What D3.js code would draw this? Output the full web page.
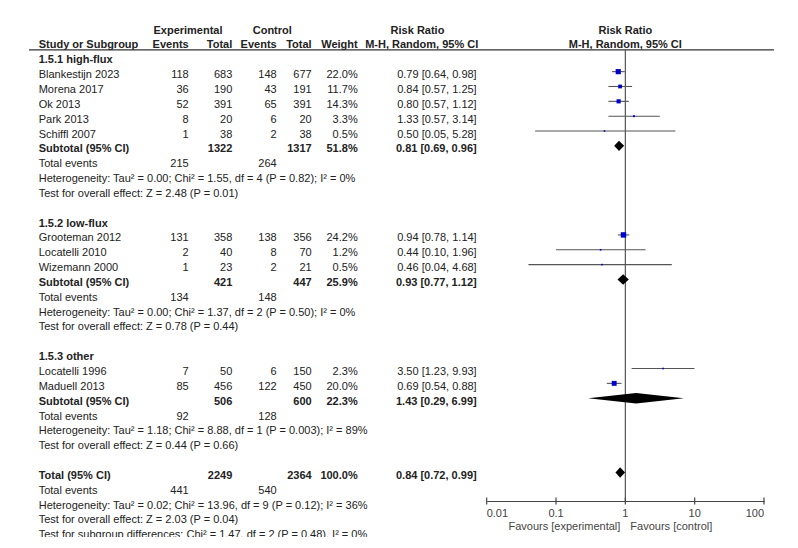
<!DOCTYPE html>
<html><head><meta charset="utf-8">
<script src="https://cdn.jsdelivr.net/npm/d3@7"></script>
<style>
html,body{margin:0;padding:0;background:#fff;}
svg{display:block;font-family:Arial,"Liberation Sans",sans-serif;}
</style></head>
<body>
<svg id="chart" width="798" height="548"></svg>
<script>
// ---------- data ----------
const subgroupNames = ["1.5.1 high-flux", "1.5.2 low-flux", "1.5.3 other"];
const studyNames = ["Blankestijn 2023","Morena 2017","Ok 2013","Park 2013","Schiffl 2007",
                    "Grooteman 2012","Locatelli 2010","Wizemann 2000",
                    "Locatelli 1996","Maduell 2013"];
const studyGroup = [0,0,0,0,0,1,1,1,2,2];
const expEvents = [118,36,52,8,1,131,2,1,7,85];
const expTotal  = [683,190,391,20,38,358,40,23,50,456];
const ctlEvents = [148,43,65,6,2,138,8,2,6,122];
const ctlTotal  = [677,191,391,20,38,356,70,21,150,450];
const weights   = [22.0,11.7,14.3,3.3,0.5,24.2,1.2,0.5,2.3,20.0];
const rr        = [0.79,0.84,0.80,1.33,0.50,0.94,0.44,0.46,3.50,0.69];
const rrLo      = [0.64,0.57,0.57,0.57,0.05,0.78,0.10,0.04,1.23,0.54];
const rrHi      = [0.98,1.25,1.12,3.14,5.28,1.14,1.96,4.68,9.93,0.88];

const subExpTotal = [1322,421,506];
const subCtlTotal = [1317,447,600];
const subWeight   = [51.8,25.9,22.3];
const subRR   = [0.81,0.93,1.43];
const subLo   = [0.69,0.77,0.29];
const subHi   = [0.96,1.12,6.99];
const subExpEvents = [215,134,92];
const subCtlEvents = [264,148,128];
const subHet = ["Tau\u00B2 = 0.00; Chi\u00B2 = 1.55, df = 4 (P = 0.82); I\u00B2 = 0%",
                "Tau\u00B2 = 0.00; Chi\u00B2 = 1.37, df = 2 (P = 0.50); I\u00B2 = 0%",
                "Tau\u00B2 = 1.18; Chi\u00B2 = 8.88, df = 1 (P = 0.003); I\u00B2 = 89%"];
const subZ = ["Z = 2.48 (P = 0.01)","Z = 0.78 (P = 0.44)","Z = 0.44 (P = 0.66)"];

const totExpTotal = 2249, totCtlTotal = 2364, totWeight = 100.0;
const totRR = 0.84, totLo = 0.72, totHi = 0.99;
const totExpEvents = 441, totCtlEvents = 540;
const totHet = "Tau\u00B2 = 0.02; Chi\u00B2 = 13.96, df = 9 (P = 0.12); I\u00B2 = 36%";
const totZ = "Z = 2.03 (P = 0.04)";
const subgroupDiff = "Chi\u00B2 = 1.47, df = 2 (P = 0.48), I\u00B2 = 0%";

const tickValues = [0.01, 0.1, 1, 10, 100];
const tickLabels = ["0.01", "0.1", "1", "10", "100"];
const favoursLeft = "Favours [experimental]";
const favoursRight = "Favours [control]";

// ---------- build rows ----------
const f2 = d3.format(".2f");
const fw = d3.format(".1f");
const ciText = (r,l,h) => `${f2(r)} [${f2(l)}, ${f2(h)}]`;
const rows = [];
subgroupNames.forEach((g, gi) => {
  rows.push({type:"group", label:g});
  studyNames.forEach((s, i) => {
    if (studyGroup[i] !== gi) return;
    rows.push({type:"study", label:s, ee:expEvents[i], et:expTotal[i], ce:ctlEvents[i], ct:ctlTotal[i],
      w:weights[i], rr:rr[i], lo:rrLo[i], hi:rrHi[i]});
  });
  rows.push({type:"sub", label:"Subtotal (95% CI)", et:subExpTotal[gi], ct:subCtlTotal[gi], w:subWeight[gi],
    rr:subRR[gi], lo:subLo[gi], hi:subHi[gi]});
  rows.push({type:"events", label:"Total events", ee:subExpEvents[gi], ce:subCtlEvents[gi]});
  rows.push({type:"note", label:"Heterogeneity: " + subHet[gi]});
  rows.push({type:"note", label:"Test for overall effect: " + subZ[gi]});
  rows.push({type:"blank"});
});
rows.push({type:"sub", label:"Total (95% CI)", et:totExpTotal, ct:totCtlTotal, w:totWeight, rr:totRR, lo:totLo, hi:totHi});
rows.push({type:"events", label:"Total events", ee:totExpEvents, ce:totCtlEvents});
rows.push({type:"note", label:"Heterogeneity: " + totHet});
rows.push({type:"note", label:"Test for overall effect: " + totZ});
rows.push({type:"note", label:"Test for subgroup differences: " + subgroupDiff});

// ---------- layout ----------
const svg = d3.select("#chart");
const TXT = "#222";
const rowY = d3.scaleLinear().domain([0, rows.length - 1]).range([59.3, 534.3]);
const x = d3.scaleLog().domain([0.01, 100]).range([486.7, 764]);
const col = {study:38.7, ee:188.7, et:232.3, ce:276.7, ct:311.7, w:357.7, ci:476.7};
const axisY = 501, headLineY = 49.8;

const clip = svg.append("defs").append("clipPath").attr("id","clipc");
clip.append("rect").attr("x",0).attr("y",0).attr("width",798).attr("height",537);
const g = svg.append("g").attr("clip-path","url(#clipc)");

function txt(xp, yp, s, anchor, bold, color, size) {
  g.append("text").attr("x", xp).attr("y", yp).attr("text-anchor", anchor || "start")
    .attr("font-size", size || 11).attr("font-weight", bold ? "bold" : "normal")
    .attr("fill", color || TXT).text(s);
}

// headers
const h1 = rowY(-2) + 4, h2 = rowY(-1) + 4;
txt(188, h1, "Experimental", "middle", true);
txt(272.3, h1, "Control", "middle", true);
txt(417.5, h1, "Risk Ratio", "middle", true);
txt(x(1), h1, "Risk Ratio", "middle", true);
txt(col.study, h2, "Study or Subgroup", "start", true);
txt(col.ee, h2, "Events", "end", true);
txt(col.et, h2, "Total", "end", true);
txt(col.ce, h2, "Events", "end", true);
txt(col.ct, h2, "Total", "end", true);
txt(col.w, h2, "Weight", "end", true);
txt(421.7, h2, "M-H, Random, 95% CI", "middle", true);
txt(x(1), h2, "M-H, Random, 95% CI", "middle", true);

g.append("line").attr("x1", 29).attr("x2", 774).attr("y1", headLineY).attr("y2", headLineY)
  .attr("stroke", "#333").attr("stroke-width", 1.2);

// null line
g.append("line").attr("x1", x(1)).attr("x2", x(1)).attr("y1", headLineY).attr("y2", axisY)
  .attr("stroke", "#555").attr("stroke-width", 1.2);

// rows
rows.forEach((r, i) => {
  const ty = rowY(i) + 4, my = rowY(i) - 2.5;
  const bold = r.type === "group" || r.type === "sub";
  if (r.type === "blank") return;
  txt(col.study, ty, r.label, "start", bold);
  if (r.ee !== undefined) txt(col.ee, ty, r.ee, "end", bold);
  if (r.et !== undefined) txt(col.et, ty, r.et, "end", bold);
  if (r.ce !== undefined) txt(col.ce, ty, r.ce, "end", bold);
  if (r.ct !== undefined) txt(col.ct, ty, r.ct, "end", bold);
  if (r.w !== undefined) txt(col.w, ty, fw(r.w) + "%", "end", bold);
  if (r.rr !== undefined) txt(col.ci, ty, ciText(r.rr, r.lo, r.hi), "end", bold);
  if (r.type === "study") {
    g.append("line").attr("x1", x(r.lo)).attr("x2", x(r.hi)).attr("y1", my).attr("y2", my)
      .attr("stroke", "#555").attr("stroke-width", 1.1);
    const s = Math.max(1.6, Math.sqrt(r.w) * 1.1);
    g.append("rect").attr("x", x(r.rr) - s/2).attr("y", my - s/2).attr("width", s).attr("height", s)
      .attr("fill", "#0000CC");
  }
  if (r.type === "sub") {
    const hh = 5.2;
    g.append("path")
      .attr("d", `M${x(r.lo)},${my} L${x(r.rr)},${my-hh} L${x(r.hi)},${my} L${x(r.rr)},${my+hh} Z`)
      .attr("fill", "#000");
  }
});

// axis
const axis = d3.axisBottom(x).tickValues(tickValues).tickSize(0).tickFormat("");
const ag = g.append("g").attr("transform", `translate(0,${axisY})`).call(axis);
ag.select(".domain").attr("stroke", "#444").attr("stroke-width", 1.2);
tickValues.forEach((v, i) => {
  g.append("line").attr("x1", x(v)).attr("x2", x(v)).attr("y1", axisY - 3.5).attr("y2", axisY + 3.5)
    .attr("stroke", "#444").attr("stroke-width", 1.2);
  const anchor = i === 0 ? "start" : (i === tickValues.length - 1 ? "end" : "middle");
  txt(x(v), axisY + 16, tickLabels[i], anchor, false, "#444");
});
txt(x(1) - 5, axisY + 29, favoursLeft, "end", false, "#444");
txt(x(1) + 5, axisY + 29, favoursRight, "start", false, "#444");
</script>
</body></html>
